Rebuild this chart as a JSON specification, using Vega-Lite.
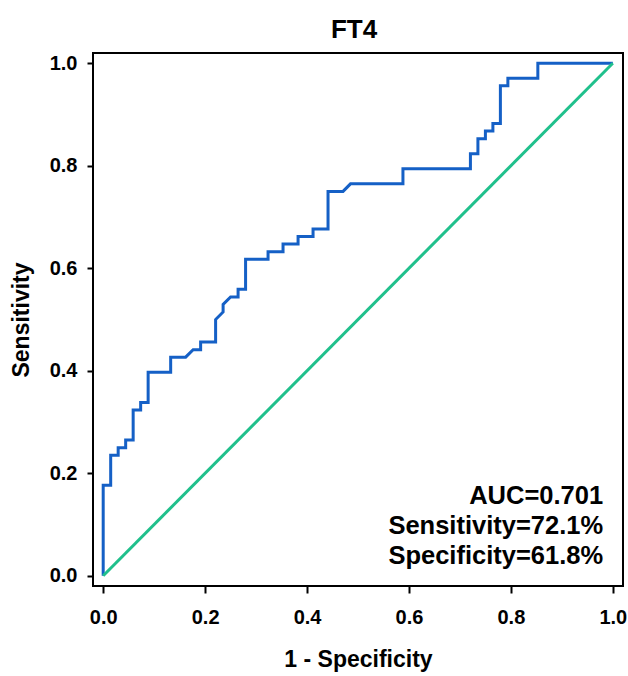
{
  "$schema": "https://vega.github.io/schema/vega-lite/v6.json",
  "width": 530,
  "height": 533,
  "autosize": "none",
  "padding": {"left": 93, "top": 53, "right": 5, "bottom": 90},
  "background": "white",
  "title": {"text": "FT4", "fontSize": 26, "font": "Liberation Sans", "fontWeight": "bold", "color": "black", "anchor": "middle", "offset": 10, "dx": -4},
  "config": {
    "view": {"stroke": "black", "strokeWidth": 2},
    "axis": {
      "domain": false,
      "grid": false,
      "ticks": true,
      "tickColor": "black",
      "tickWidth": 2,
      "labelFont": "Liberation Sans",
      "labelFontWeight": "bold",
      "labelFontSize": 20,
      "labelColor": "black",
      "titleFont": "Liberation Sans",
      "titleFontWeight": "bold",
      "titleFontSize": 23,
      "titleColor": "black"
    }
  },
  "datasets": {
    "roc": [
      {"i": 0, "fpr": 0, "tpr": 0},
      {"i": 1, "fpr": 0, "tpr": 0.1765},
      {"i": 2, "fpr": 0.0147, "tpr": 0.1765},
      {"i": 3, "fpr": 0.0147, "tpr": 0.2353},
      {"i": 4, "fpr": 0.0294, "tpr": 0.2353},
      {"i": 5, "fpr": 0.0294, "tpr": 0.25},
      {"i": 6, "fpr": 0.0441, "tpr": 0.25},
      {"i": 7, "fpr": 0.0441, "tpr": 0.2647},
      {"i": 8, "fpr": 0.0588, "tpr": 0.2647},
      {"i": 9, "fpr": 0.0588, "tpr": 0.3235},
      {"i": 10, "fpr": 0.0735, "tpr": 0.3235},
      {"i": 11, "fpr": 0.0735, "tpr": 0.3382},
      {"i": 12, "fpr": 0.0882, "tpr": 0.3382},
      {"i": 13, "fpr": 0.0882, "tpr": 0.3971},
      {"i": 14, "fpr": 0.1324, "tpr": 0.3971},
      {"i": 15, "fpr": 0.1324, "tpr": 0.4265},
      {"i": 16, "fpr": 0.1618, "tpr": 0.4265},
      {"i": 17, "fpr": 0.1765, "tpr": 0.4412},
      {"i": 18, "fpr": 0.1912, "tpr": 0.4412},
      {"i": 19, "fpr": 0.1912, "tpr": 0.4559},
      {"i": 20, "fpr": 0.2206, "tpr": 0.4559},
      {"i": 21, "fpr": 0.2206, "tpr": 0.5},
      {"i": 22, "fpr": 0.2353, "tpr": 0.5147},
      {"i": 23, "fpr": 0.2353, "tpr": 0.5294},
      {"i": 24, "fpr": 0.25, "tpr": 0.5441},
      {"i": 25, "fpr": 0.2647, "tpr": 0.5441},
      {"i": 26, "fpr": 0.2647, "tpr": 0.5588},
      {"i": 27, "fpr": 0.2794, "tpr": 0.5588},
      {"i": 28, "fpr": 0.2794, "tpr": 0.6176},
      {"i": 29, "fpr": 0.3235, "tpr": 0.6176},
      {"i": 30, "fpr": 0.3235, "tpr": 0.6324},
      {"i": 31, "fpr": 0.3529, "tpr": 0.6324},
      {"i": 32, "fpr": 0.3529, "tpr": 0.6471},
      {"i": 33, "fpr": 0.3824, "tpr": 0.6471},
      {"i": 34, "fpr": 0.3824, "tpr": 0.6618},
      {"i": 35, "fpr": 0.4118, "tpr": 0.6618},
      {"i": 36, "fpr": 0.4118, "tpr": 0.6765},
      {"i": 37, "fpr": 0.4412, "tpr": 0.6765},
      {"i": 38, "fpr": 0.4412, "tpr": 0.75},
      {"i": 39, "fpr": 0.4706, "tpr": 0.75},
      {"i": 40, "fpr": 0.4853, "tpr": 0.7647},
      {"i": 41, "fpr": 0.5882, "tpr": 0.7647},
      {"i": 42, "fpr": 0.5882, "tpr": 0.7941},
      {"i": 43, "fpr": 0.7206, "tpr": 0.7941},
      {"i": 44, "fpr": 0.7206, "tpr": 0.8235},
      {"i": 45, "fpr": 0.7353, "tpr": 0.8235},
      {"i": 46, "fpr": 0.7353, "tpr": 0.8529},
      {"i": 47, "fpr": 0.75, "tpr": 0.8529},
      {"i": 48, "fpr": 0.75, "tpr": 0.8676},
      {"i": 49, "fpr": 0.7647, "tpr": 0.8676},
      {"i": 50, "fpr": 0.7647, "tpr": 0.8824},
      {"i": 51, "fpr": 0.7794, "tpr": 0.8824},
      {"i": 52, "fpr": 0.7794, "tpr": 0.9559},
      {"i": 53, "fpr": 0.7941, "tpr": 0.9559},
      {"i": 54, "fpr": 0.7941, "tpr": 0.9706},
      {"i": 55, "fpr": 0.8529, "tpr": 0.9706},
      {"i": 56, "fpr": 0.8529, "tpr": 1},
      {"i": 57, "fpr": 1, "tpr": 1}
    ],
    "diag": [
      {"i": 0, "fpr": 0, "tpr": 0},
      {"i": 1, "fpr": 1, "tpr": 1}
    ],
    "notes": [
      {"tx": 0.981, "ty": 0.14, "label": "AUC=0.701"},
      {"tx": 0.981, "ty": 0.0815, "label": "Sensitivity=72.1%"},
      {"tx": 0.981, "ty": 0.023, "label": "Specificity=61.8%"}
    ]
  },
  "layer": [
    {
      "data": {"name": "roc"},
      "mark": {"type": "line", "color": "#1560c6", "strokeWidth": 3, "clip": true},
      "encoding": {
        "x": {"field": "fpr", "type": "quantitative", "scale": {"domain": [-0.02, 1.02], "nice": false, "zero": false},
              "axis": {"values": [0, 0.2, 0.4, 0.6, 0.8, 1], "format": ".1f", "title": "1 - Specificity", "tickSize": 7, "labelPadding": 14, "titlePadding": 21}},
        "y": {"field": "tpr", "type": "quantitative", "scale": {"domain": [-0.02, 1.02], "nice": false, "zero": false},
              "axis": {"values": [0, 0.2, 0.4, 0.6, 0.8, 1], "format": ".1f", "title": "Sensitivity", "tickSize": 6, "labelPadding": 10, "titlePadding": 16}},
        "order": {"field": "i", "type": "quantitative"}
      }
    },
    {
      "data": {"name": "diag"},
      "mark": {"type": "line", "color": "#20c08c", "strokeWidth": 3},
      "encoding": {
        "x": {"field": "fpr", "type": "quantitative"},
        "y": {"field": "tpr", "type": "quantitative"},
        "order": {"field": "i", "type": "quantitative"}
      }
    },
    {
      "data": {"name": "notes"},
      "mark": {"type": "text", "align": "right", "baseline": "alphabetic", "font": "Liberation Sans", "fontWeight": "bold", "fontSize": 25.5, "color": "black"},
      "encoding": {
        "x": {"field": "tx", "type": "quantitative"},
        "y": {"field": "ty", "type": "quantitative"},
        "text": {"field": "label", "type": "nominal"}
      }
    }
  ]
}
